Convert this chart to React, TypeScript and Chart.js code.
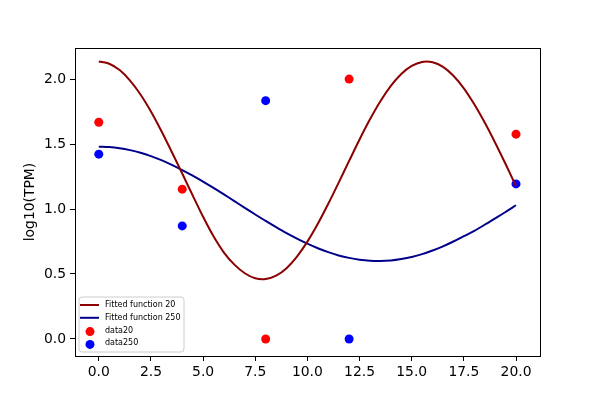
import { useEffect, useRef } from "react";
import Chart from "chart.js/auto";

// fitted curves, every 0.5 on x
const fitX = [
    0, 0.5, 1, 1.5, 2, 2.5, 3, 3.5, 4, 4.5, 5, 5.5, 6, 6.5, 7, 7.5, 8, 8.5, 9, 9.5, 10,
    10.5, 11, 11.5, 12, 12.5, 13, 13.5, 14, 14.5, 15, 15.5, 16, 16.5, 17, 17.5, 18, 18.5, 19, 19.5, 20,
];
const fit20 = [
    2.135, 2.118, 2.069, 1.988, 1.881, 1.75, 1.6, 1.439, 1.273, 1.105, 0.94, 0.79, 0.665, 0.572, 0.506,
    0.467, 0.461, 0.487, 0.545, 0.634, 0.749, 0.886, 1.04, 1.203, 1.37, 1.535, 1.69, 1.829, 1.947,
    2.039, 2.101, 2.132, 2.129, 2.094, 2.026, 1.929, 1.806, 1.665, 1.51, 1.346, 1.175,
];
const fit250 = [
    1.48, 1.477, 1.468, 1.453, 1.433, 1.407, 1.376, 1.34, 1.3, 1.257, 1.211, 1.162, 1.112, 1.061, 1.009,
    0.958, 0.908, 0.86, 0.814, 0.772, 0.733, 0.698, 0.668, 0.643, 0.624, 0.61, 0.602, 0.6, 0.604,
    0.615, 0.631, 0.653, 0.681, 0.713, 0.75, 0.791, 0.832, 0.879, 0.928, 0.977, 1.029,
];

// measured samples
const sampleX = [0, 4, 8, 12, 20];
const data20 = [1.668, 1.153, 0, 2.0, 1.576];
const data250 = [1.422, 0.87, 1.834, 0, 1.193];

const xTicks = [0, 2.5, 5, 7.5, 10, 12.5, 15, 17.5, 20];
const yTicks = [0, 0.5, 1, 1.5, 2];

const FONT = "'DejaVu Sans', sans-serif";

const pts = (xs: number[], ys: number[]) => xs.map((x, i) => ({ x, y: ys[i] }));

// axes frame on all four sides, like matplotlib spines
const framePlugin = {
    id: "frame",
    afterDatasetsDraw(chart: any) {
        const { ctx, chartArea: a } = chart;
        ctx.save();
        ctx.strokeStyle = "#000";
        ctx.lineWidth = 1;
        ctx.strokeRect(a.left + 0.5, a.top + 0.5, a.right - a.left, a.bottom - a.top);
        ctx.restore();
    },
};

// small legend in the lower-left corner of the axes
const legendPlugin = {
    id: "mplLegend",
    afterDraw(chart: any) {
        const { ctx, chartArea: a } = chart;
        const x0 = a.left + 4;
        const h = 55;
        const y0 = a.bottom - 4 - h;
        ctx.save();
        ctx.beginPath();
        ctx.roundRect(x0, y0, 105, h, 3);
        ctx.fillStyle = "rgba(255,255,255,0.8)";
        ctx.fill();
        ctx.strokeStyle = "#cccccc";
        ctx.lineWidth = 1;
        ctx.stroke();
        ctx.font = `8px ${FONT}`;
        ctx.textBaseline = "middle";
        chart.data.datasets.forEach((ds: any, i: number) => {
            const y = y0 + 8 + i * 12.8;
            if (ds.showLine) {
                ctx.strokeStyle = ds.borderColor;
                ctx.lineWidth = 2;
                ctx.beginPath();
                ctx.moveTo(x0 + 1, y);
                ctx.lineTo(x0 + 20, y);
                ctx.stroke();
            } else {
                ctx.fillStyle = ds.backgroundColor;
                ctx.beginPath();
                ctx.arc(x0 + 11, y + 1, 4.5, 0, Math.PI * 2);
                ctx.fill();
            }
            ctx.fillStyle = "#000";
            ctx.fillText(ds.label, x0 + 26, y);
        });
        ctx.restore();
    },
};

export default function App() {
    const canvasRef = useRef<HTMLCanvasElement | null>(null);
    const chartRef = useRef<Chart | null>(null);

    useEffect(() => {
        if (!canvasRef.current) return;
        if (chartRef.current) chartRef.current.destroy();

        const tickFont = { family: FONT, size: 13.9 };

        chartRef.current = new Chart(canvasRef.current, {
            type: "scatter",
            data: {
                datasets: [
                    {
                        label: "Fitted function 20",
                        data: pts(fitX, fit20),
                        showLine: true,
                        borderColor: "#8b0000",
                        backgroundColor: "#8b0000",
                        borderWidth: 2,
                        pointRadius: 0,
                        tension: 0.3,
                    },
                    {
                        label: "Fitted function 250",
                        data: pts(fitX, fit250),
                        showLine: true,
                        borderColor: "#00008b",
                        backgroundColor: "#00008b",
                        borderWidth: 2,
                        pointRadius: 0,
                        tension: 0.3,
                    },
                    {
                        label: "data20",
                        data: pts(sampleX, data20),
                        showLine: false,
                        backgroundColor: "#ff0000",
                        borderColor: "#ff0000",
                        borderWidth: 0,
                        pointRadius: 4.5,
                    },
                    {
                        label: "data250",
                        data: pts(sampleX, data250),
                        showLine: false,
                        backgroundColor: "#0000ff",
                        borderColor: "#0000ff",
                        borderWidth: 0,
                        pointRadius: 4.5,
                    },
                ],
            },
            options: {
                responsive: false,
                animation: false,
                layout: { padding: { top: 48, right: 60, left: 0, bottom: 0 } },
                plugins: {
                    legend: { display: false },
                    tooltip: { enabled: false },
                },
                scales: {
                    x: {
                        type: "linear",
                        min: -1.14,
                        max: 21.15,
                        afterFit: (s: any) => {
                            s.height = 44;
                        },
                        afterBuildTicks: (s: any) => {
                            s.ticks = xTicks.map((v) => ({ value: v }));
                        },
                        ticks: {
                            autoSkip: false,
                            maxRotation: 0,
                            padding: 3,
                            color: "#000",
                            font: tickFont,
                            callback: (v: any) => Number(v).toFixed(1),
                        },
                        grid: { drawOnChartArea: false, tickLength: 5, color: "#000" },
                        border: { color: "#000" },
                    },
                    y: {
                        type: "linear",
                        min: -0.131,
                        max: 2.239,
                        afterFit: (s: any) => {
                            s.width = 75;
                        },
                        afterBuildTicks: (s: any) => {
                            s.ticks = yTicks.map((v) => ({ value: v }));
                        },
                        ticks: {
                            autoSkip: false,
                            padding: 4,
                            color: "#000",
                            font: tickFont,
                            callback: (v: any) => Number(v).toFixed(1),
                        },
                        grid: { drawOnChartArea: false, tickLength: 5, color: "#000" },
                        border: { color: "#000" },
                        title: {
                            display: true,
                            text: "log10(TPM)",
                            color: "#000",
                            font: tickFont,
                            padding: { top: 22, bottom: 0 },
                        },
                    },
                },
            },
            plugins: [framePlugin, legendPlugin],
        });

        return () => {
            chartRef.current?.destroy();
            chartRef.current = null;
        };
    }, []);

    return (
        <div style={{ position: "fixed", left: 0, top: 0, width: 600, height: 400, background: "#fff" }}>
            <canvas ref={canvasRef} width={600} height={400} />
        </div>
    );
}
